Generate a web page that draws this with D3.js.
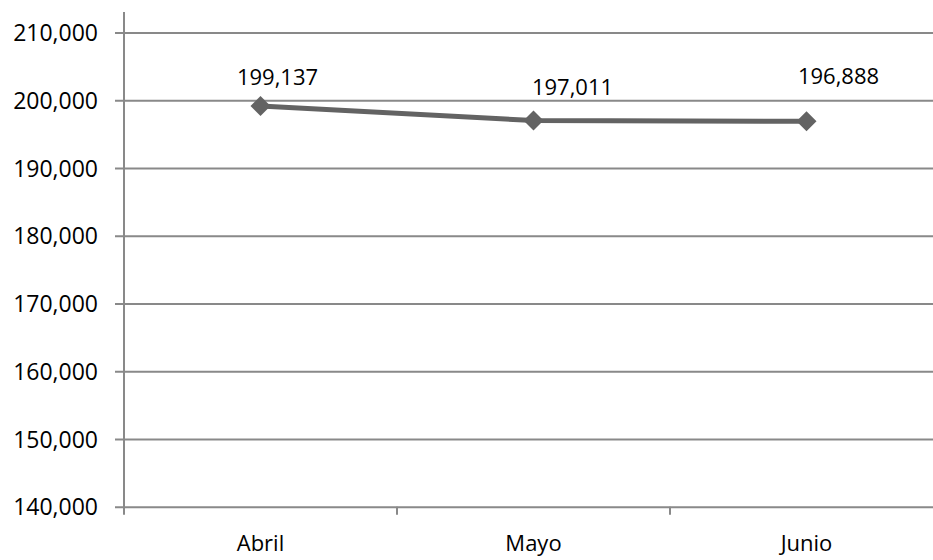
<!DOCTYPE html>
<html>
<head>
<meta charset="utf-8">
<script src="https://cdn.jsdelivr.net/npm/d3@7"></script>
<style>
    body { margin: 0; background: #fff; }
    text { font-family: "Open Sans", sans-serif; fill: #000; }
</style>
</head>
<body>
<div id="chart"></div>
<script>
// Chart data
const months = ["Abril", "Mayo", "Junio"];
const values = [199137, 197011, 196888];
const yTicks = [140000, 150000, 160000, 170000, 180000, 190000, 200000, 210000];

// Data label nudges (labels were placed by hand in the original)
const labelNudge = [[17, -21], [39, -25], [32, -37]];

const width = 933, height = 560;
const padding = {top: 32.5, right: -10, bottom: 53.3, left: 124};

const svg = d3.select("#chart").append("svg")
    .attr("width", width)
    .attr("height", height);

const xScale = d3.scaleBand()
    .domain(months)
    .range([padding.left, width - padding.right]);

const yScale = d3.scaleLinear()
    .domain([140000, 210000])
    .range([height - padding.bottom, padding.top]);

const fmt = d3.format(",");
const gridColor = "#898989";

// Gridlines + y labels
const yAxis = svg.append("g")
    .attr("transform", "translate(" + padding.left + ",0)")
    .call(d3.axisLeft(yScale)
        .tickValues(yTicks)
        .tickFormat(fmt)
        .tickSize(9)
        .tickPadding(17));
yAxis.select(".domain").remove();
yAxis.selectAll(".tick line").remove();
yAxis.selectAll(".tick").append("line")
    .attr("x1", -9)
    .attr("x2", width - padding.left)
    .attr("stroke", gridColor)
    .attr("stroke-width", 2);
yAxis.selectAll(".tick text")
    .style("font-size", "23px")
    .attr("dy", "0.35em");

// Vertical axis line
svg.append("line")
    .attr("x1", padding.left).attr("x2", padding.left)
    .attr("y1", 12).attr("y2", yScale(140000) + 8)
    .attr("stroke", gridColor)
    .attr("stroke-width", 2);

// X axis: ticks between categories
const bounds = months.map(m => xScale(m));
svg.selectAll(".xtick")
    .data(bounds.slice(1))
    .enter().append("line")
    .attr("class", "xtick")
    .attr("x1", d => d).attr("x2", d => d)
    .attr("y1", yScale(140000))
    .attr("y2", yScale(140000) + 8)
    .attr("stroke", gridColor)
    .attr("stroke-width", 2);

svg.selectAll(".xlabel")
    .data(months)
    .enter().append("text")
    .attr("class", "xlabel")
    .attr("x", d => xScale(d) + xScale.bandwidth() / 2)
    .attr("y", 551)
    .attr("text-anchor", "middle")
    .style("font-size", "22px")
    .text(d => d);

// Series line
const points = months.map((m, i) => [xScale(m) + xScale.bandwidth() / 2, yScale(values[i])]);

svg.append("path")
    .datum(points)
    .attr("d", d3.line())
    .attr("fill", "none")
    .attr("stroke", "#636363")
    .attr("stroke-width", 5)
    .attr("stroke-linejoin", "round");

// Diamond markers
svg.selectAll(".marker")
    .data(points)
    .enter().append("path")
    .attr("class", "marker")
    .attr("transform", d => "translate(" + d[0] + "," + d[1] + ")")
    .attr("d", "M0,-10L10,0L0,10L-10,0Z")
    .attr("fill", "#636363");

// Data labels
svg.selectAll(".dlabel")
    .data(points)
    .enter().append("text")
    .attr("class", "dlabel")
    .attr("x", (d, i) => d[0] + labelNudge[i][0])
    .attr("y", (d, i) => d[1] + labelNudge[i][1])
    .attr("text-anchor", "middle")
    .style("font-size", "22px")
    .text((d, i) => fmt(values[i]));
</script>
</body>
</html>
